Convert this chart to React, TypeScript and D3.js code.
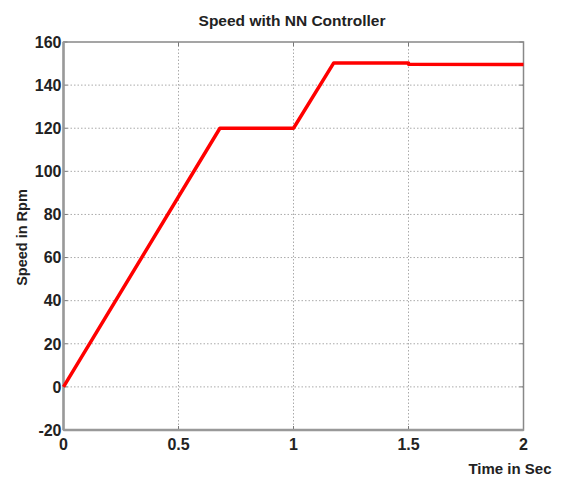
import React from "react";
import * as d3 from "d3";

const timeSec = [0, 0.68, 1.0, 1.175, 1.5, 1.5, 2.0];
const speedRpm = [0, 120, 120, 150.3, 150.2, 149.7, 149.6];
const xTicks = [0, 0.5, 1, 1.5, 2];
const xTickLabels = ["0", "0.5", "1", "1.5", "2"];
const yTicks = [-20, 0, 20, 40, 60, 80, 100, 120, 140, 160];

const W = 563;
const H = 477;
const left = 63.5;
const right = 523.5;
const top = 42;
const bottom = 430;

export default function App() {
  const x = d3.scaleLinear().domain([0, 2]).range([left, right]);
  const y = d3.scaleLinear().domain([-20, 160]).range([bottom, top]);
  const pts: [number, number][] = timeSec.map((t, i) => [t, speedRpm[i]]);
  const line = d3
    .line<[number, number]>()
    .x((d) => x(d[0]))
    .y((d) => y(d[1]));
  const font = "Arial, 'Liberation Sans', sans-serif";
  return (
    <svg
      width={W}
      height={H}
      style={{ position: "absolute", left: 0, top: 0, background: "#fff" }}
      fontFamily={font}
    >
      <rect x={0} y={0} width={W} height={H} fill="#fff" />
      {xTicks.slice(1, -1).map((t) => (
        <line
          key={"gx" + t}
          x1={x(t)}
          x2={x(t)}
          y1={top}
          y2={bottom}
          stroke="#aaa"
          strokeWidth={1}
          strokeDasharray="1.5,2"
        />
      ))}
      {yTicks.slice(1, -1).map((t) => (
        <line
          key={"gy" + t}
          x1={left}
          x2={right}
          y1={y(t)}
          y2={y(t)}
          stroke="#aaa"
          strokeWidth={1}
          strokeDasharray="1.5,2"
        />
      ))}
      {xTicks.map((t) => (
        <g key={"tx" + t}>
          <line x1={x(t)} x2={x(t)} y1={bottom} y2={bottom - 4} stroke="#777" />
          <line x1={x(t)} x2={x(t)} y1={top} y2={top + 4} stroke="#777" />
        </g>
      ))}
      {yTicks.map((t) => (
        <g key={"ty" + t}>
          <line x1={left} x2={left + 4} y1={y(t)} y2={y(t)} stroke="#777" />
          <line x1={right} x2={right - 4} y1={y(t)} y2={y(t)} stroke="#777" />
        </g>
      ))}
      <rect
        x={left}
        y={top}
        width={right - left}
        height={bottom - top}
        fill="none"
        stroke="#888"
        strokeWidth={1.5}
      />
      <line x1={left} x2={left} y1={top} y2={bottom} stroke="#999" strokeWidth={2.5} />
      <line x1={left} x2={right} y1={bottom} y2={bottom} stroke="#999" strokeWidth={2.5} />
      <path
        d={line(pts) || ""}
        fill="none"
        stroke="#ff0000"
        strokeWidth={3.5}
        strokeLinejoin="round"
      />
      {yTicks.map((t) => (
        <text
          key={"ly" + t}
          x={left - 2}
          y={y(t)}
          dy="0.36em"
          textAnchor="end"
          fontSize={16}
          fontWeight="bold"
          fill="#222"
        >
          {t}
        </text>
      ))}
      {xTicks.map((t, i) => (
        <text
          key={"lx" + t}
          x={x(t)}
          y={bottom + 20}
          textAnchor="middle"
          fontSize={16}
          fontWeight="bold"
          fill="#222"
        >
          {xTickLabels[i]}
        </text>
      ))}
      <text
        x={292}
        y={26}
        textAnchor="middle"
        fontSize={15.5}
        fontWeight="bold"
        fill="#222"
      >
        Speed with NN Controller
      </text>
      <text
        x={510}
        y={474}
        textAnchor="middle"
        fontSize={15}
        fontWeight="bold"
        fill="#222"
      >
        Time in Sec
      </text>
      <text
        transform={`translate(27, ${237.5}) rotate(-90)`}
        textAnchor="middle"
        fontSize={14.5}
        fontWeight="bold"
        fill="#222"
      >
        Speed in Rpm
      </text>
    </svg>
  );
}
